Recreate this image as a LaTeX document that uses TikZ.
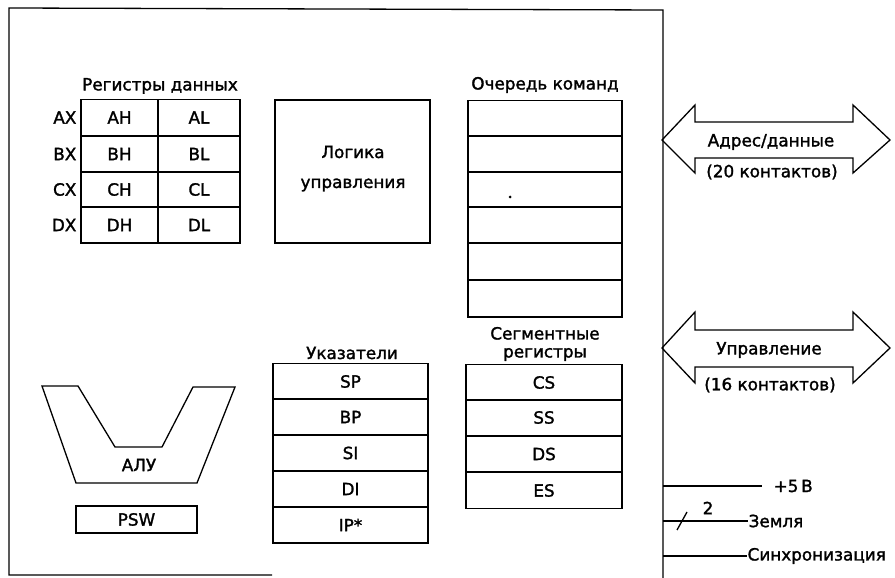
\documentclass[tikz,border=0pt]{standalone}
\usepackage{fontspec}
\setmainfont{DejaVu Sans}[BoldFont={DejaVu Sans}, BoldFeatures={FakeBold=1.6}]
\begin{document}
\begin{tikzpicture}[x=1bp,y=-1bp,line width=1.3bp,
  every node/.style={font=\fontsize{16.8bp}{18bp}\selectfont\bfseries, inner sep=0pt},
  cell/.style={draw, minimum height=#1},
  cell/.default=36bp]
\useasboundingbox (0,0) rectangle (895,578);
% outer frame
\draw (663,578) -- (663,10) -- (9,8) -- (9,575) -- (272,575);
% data registers
\node (rdt) at (160,86) {Регистры данных};
\foreach \r/\y in {A/117.5,B/154,C/189.5,D/225}{
  \node[cell, minimum width=77bp] (\r H) at (119.5,\y) {\r H};
  \node[cell, minimum width=82bp] (\r L) at (199,\y) {\r L};
  \node[anchor=east] (\r X) at (77,\y) {\r X};
}
% control logic
\node[draw, minimum width=155bp, minimum height=143bp] (logic) at (352.5,171.5) {};
\node (lg1) at (353,152) {Логика};
\node (lg2) at (353,185) {управления};
% instruction queue
\node (qt) at (545,85) {Очередь команд};
\foreach \i/\y in {1/118.5,2/154,3/189.5,4/225,5/261.5,6/298.5}{
  \node[cell, minimum width=154bp, minimum height={\ifnum\i>4 37bp\else 36bp\fi}] (q\i) at (545,\y) {};
}
\fill (510,197) circle (1.5bp);
% pointers
\node (pt) at (352,353) {Указатели};
\foreach \n/\t/\y in {1/SP/381.5,2/BP/417,3/SI/453,4/DI/489,5/IP*/525}{
  \node[cell, minimum width=155bp] (p\n) at (350.5,\y) {\t};
}
% segment registers
\node[align=center, font=\fontsize{16.8bp}{18bp}\selectfont\bfseries] (st) at (545,344) {Сегментные\\регистры};
\foreach \n/\t/\y in {1/CS/382.5,2/SS/417.5,3/DS/454,4/ES/490.5}{
  \node[cell, minimum width=156bp] (s\n) at (544,\y) {\t};
}
% ALU
\draw (42,386) -- (78,386) -- (115,447) -- (162,447) -- (193,387) -- (235,387) -- (197,483) -- (76,483) -- cycle;
\node (alu) at (139,465) {АЛУ};
\node[draw, minimum width=121bp, minimum height=27bp] (psw) at (136.5,519.5) {PSW};
% bus arrows
\draw (662,140) -- (695,105) -- (695,122) -- (853,122) -- (853,105) -- (890,140)
  -- (853,173) -- (853,158) -- (695,158) -- (695,173) -- cycle;
\node (ad1) at (771,142) {Адрес/данные};
\node (ad2) at (772,172) {(20 контактов)};
\draw (662,348) -- (695,312) -- (695,330) -- (853,330) -- (853,312) -- (890,348)
  -- (853,383) -- (853,367) -- (695,367) -- (695,383) -- cycle;
\node (up1) at (769,350) {Управление};
\node (up2) at (770,385) {(16 контактов)};
% pins
\coordinate (c1) at (663,486);
\coordinate (c2) at (663,521);
\coordinate (c3) at (663,556);
\node[anchor=west] (v5) at (773,486) {+5\,В};
\node[anchor=west] (gnd) at (748,521) {Земля};
\node[anchor=west] (clk) at (747,556) {Синхронизация};
\draw (c1) -- (762,486);
\draw (c2) -- (gnd.west);
\draw (c3) -- (clk.west);
\draw (677,530) -- (687,512);
\node (two) at (708,508) {2};
\end{tikzpicture}
\end{document}
